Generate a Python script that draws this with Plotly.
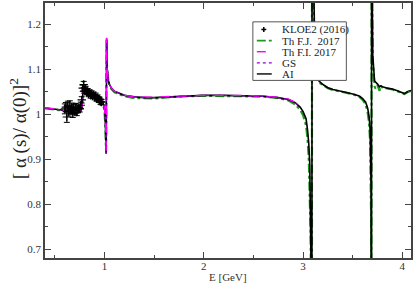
import plotly.graph_objects as go

# ---------------- data ----------------
# AI (black solid)
E_ai = [0.40, 0.45, 0.50, 0.55, 0.60, 0.65, 0.70, 0.73, 0.75, 0.765, 0.772, 0.777, 0.781, 0.784, 0.787,
        0.792, 0.80, 0.82, 0.85, 0.88, 0.91, 0.94, 0.96, 0.975, 0.99, 1.0, 1.006, 1.010, 1.013, 1.0155,
        1.0175, 1.019, 1.0205, 1.022, 1.024, 1.027, 1.032, 1.04, 1.05, 1.07, 1.10, 1.15, 1.20, 1.30, 1.40,
        1.50, 1.60, 1.80, 2.00, 2.20, 2.40, 2.60, 2.75, 2.85, 2.92, 2.97, 3.00, 3.03, 3.045, 3.057, 3.067,
        3.075, 3.081, 3.086, 3.0885, 3.0905, 3.093, 3.10, 3.11, 3.12, 3.13, 3.15, 3.20, 3.25, 3.30, 3.38,
        3.45, 3.52, 3.57, 3.60, 3.63, 3.65, 3.665, 3.675, 3.681, 3.685, 3.6885, 3.6905, 3.693, 3.697,
        3.702, 3.71, 3.72, 3.75, 3.77, 3.78, 3.80, 3.85, 3.90, 3.95, 4.00, 4.02, 4.05, 4.09]
v_ai = [1.014, 1.013, 1.012, 1.010, 1.008, 1.005, 1.003, 1.003, 1.005, 1.010, 1.017, 1.028, 1.045, 1.058, 1.063,
        1.061, 1.057, 1.052, 1.047, 1.043, 1.040, 1.036, 1.033, 1.029, 1.022, 1.012, 0.998, 0.975, 0.945, 0.913,
        0.960, 1.080, 1.168, 1.150, 1.120, 1.100, 1.085, 1.074, 1.066, 1.058, 1.051, 1.046, 1.042, 1.039, 1.037,
        1.037, 1.038, 1.040, 1.042, 1.042, 1.041, 1.040, 1.037, 1.033, 1.026, 1.016, 1.006, 0.990, 0.965, 0.935, 0.890,
        0.820, 0.730, 0.560, 0.200, 1.800, 1.550, 1.380, 1.200, 1.120, 1.092, 1.076, 1.066, 1.059, 1.055, 1.052,
        1.048, 1.044, 1.040, 1.035, 1.027, 1.014, 0.995, 0.965, 0.915, 0.840, 0.300, 1.800, 1.450, 1.250,
        1.130, 1.088, 1.074, 1.067, 1.061, 1.063, 1.061, 1.058, 1.056, 1.052, 1.048, 1.046, 1.050, 1.053]

# Th F.J. 2017 (green dash-dot)
E_fj = [0.40, 0.45, 0.50, 0.55, 0.60, 0.65, 0.70, 0.73, 0.75, 0.765, 0.772, 0.777, 0.781, 0.784, 0.787,
        0.792, 0.80, 0.82, 0.85, 0.88, 0.91, 0.94, 0.96, 0.975, 0.99, 1.0, 1.006, 1.010, 1.013, 1.0155,
        1.0175, 1.019, 1.0205, 1.022, 1.024, 1.027, 1.032, 1.04, 1.05, 1.07, 1.10, 1.15, 1.20, 1.30, 1.40,
        1.50, 1.60, 1.80, 2.00, 2.20, 2.40, 2.60, 2.75, 2.85, 2.92, 2.97, 3.00, 3.03, 3.045, 3.057, 3.067,
        3.075, 3.081, 3.086, 3.0885, 3.0905, 3.093, 3.10, 3.11, 3.12, 3.13, 3.15, 3.20, 3.25, 3.30, 3.38,
        3.45, 3.52, 3.57, 3.60, 3.63, 3.65, 3.665, 3.675, 3.681, 3.685, 3.6885, 3.6905, 3.693, 3.697,
        3.702, 3.71, 3.72, 3.73, 3.75, 3.77, 3.78, 3.80, 3.85, 3.90, 3.95, 4.00, 4.02, 4.05, 4.09]
v_fj = [1.013, 1.012, 1.011, 1.009, 1.006, 1.003, 1.001, 1.002, 1.006, 1.012, 1.022, 1.040, 1.062, 1.074, 1.072,
        1.064, 1.057, 1.051, 1.046, 1.042, 1.039, 1.035, 1.031, 1.026, 1.018, 1.006, 0.990, 0.965, 0.935, 0.918,
        0.990, 1.110, 1.165, 1.140, 1.112, 1.094, 1.080, 1.071, 1.064, 1.056, 1.049, 1.044, 1.040, 1.036, 1.035,
        1.035, 1.037, 1.040, 1.041, 1.041, 1.040, 1.039, 1.036, 1.031, 1.022, 1.010, 0.998, 0.975, 0.945, 0.905, 0.840,
        0.740, 0.600, 0.400, 0.200, 1.800, 1.520, 1.340, 1.170, 1.105, 1.085, 1.072, 1.064, 1.058, 1.054, 1.051,
        1.047, 1.043, 1.038, 1.032, 1.022, 1.005, 0.980, 0.940, 0.880, 0.780, 0.300, 1.800, 1.420, 1.230,
        1.120, 1.080, 1.062, 1.057, 1.064, 1.052, 1.064, 1.059, 1.057, 1.055, 1.051, 1.047, 1.045, 1.049, 1.052]

# Th F.I. 2017 (magenta dashed)
E_fi = [0.40, 0.45, 0.50, 0.55, 0.60, 0.65, 0.70, 0.73, 0.75, 0.765, 0.772, 0.777, 0.781, 0.784, 0.787,
        0.792, 0.80, 0.82, 0.85, 0.88, 0.91, 0.94, 0.96, 0.975, 0.99, 1.0, 1.006, 1.010, 1.013, 1.0155,
        1.0175, 1.019, 1.0205, 1.022, 1.024, 1.027, 1.032, 1.04, 1.05, 1.07, 1.10, 1.15, 1.20, 1.30, 1.40,
        1.50, 1.60, 1.80, 2.00, 2.20, 2.40, 2.60, 2.75, 2.85, 2.92, 2.96]
v_fi = [1.015, 1.014, 1.012, 1.010, 1.008, 1.005, 1.003, 1.003, 1.005, 1.010, 1.017, 1.028, 1.044, 1.057, 1.062,
        1.060, 1.056, 1.051, 1.047, 1.043, 1.040, 1.036, 1.033, 1.029, 1.022, 1.012, 0.998, 0.975, 0.945, 0.910,
        0.958, 1.080, 1.170, 1.150, 1.120, 1.100, 1.085, 1.074, 1.066, 1.058, 1.051, 1.046, 1.042, 1.039, 1.038,
        1.038, 1.039, 1.041, 1.042, 1.042, 1.042, 1.040, 1.038, 1.034, 1.027, 1.019]

# GS (violet dotted)
E_gs = [0.40, 0.45, 0.50, 0.55, 0.60, 0.65, 0.70, 0.73, 0.75, 0.765, 0.772, 0.777, 0.781, 0.784, 0.787,
        0.792, 0.80, 0.82, 0.85, 0.88, 0.91, 0.94, 0.96, 0.975, 0.99, 1.0, 1.006, 1.010, 1.013, 1.0155,
        1.0175, 1.019, 1.0205, 1.022, 1.024, 1.027, 1.032, 1.04, 1.05, 1.07, 1.10, 1.15, 1.20, 1.30, 1.40,
        1.50, 1.60, 1.80, 2.00, 2.20, 2.40, 2.60, 2.75, 2.85, 2.92, 2.96]
v_gs = [1.014, 1.013, 1.012, 1.010, 1.007, 1.004, 1.002, 1.003, 1.005, 1.011, 1.018, 1.030, 1.046, 1.058, 1.062,
        1.060, 1.056, 1.051, 1.047, 1.043, 1.040, 1.036, 1.033, 1.029, 1.022, 1.012, 0.998, 0.975, 0.945, 0.912,
        0.960, 1.080, 1.168, 1.148, 1.118, 1.099, 1.084, 1.074, 1.066, 1.058, 1.051, 1.046, 1.042, 1.039, 1.037,
        1.037, 1.038, 1.040, 1.042, 1.042, 1.041, 1.040, 1.037, 1.033, 1.026, 1.018]

# KLOE2 (2016) data points
E_kloe = [0.600, 0.610, 0.620, 0.630, 0.640, 0.650, 0.660, 0.670, 0.680, 0.690, 0.700, 0.710, 0.720, 0.730,
          0.740, 0.750, 0.760, 0.770, 0.780, 0.790, 0.800, 0.810, 0.820, 0.830, 0.840, 0.850, 0.860, 0.870,
          0.880, 0.890, 0.900, 0.910, 0.920, 0.930, 0.940, 0.950, 0.960, 0.970]
v_kloe = [1.012, 1.016, 0.994, 1.018, 1.006, 1.020, 1.009, 1.015, 1.002, 1.013, 1.008, 1.016, 1.005, 1.011,
          1.014, 1.012, 1.020, 1.032, 1.058, 1.066, 1.052, 1.056, 1.049, 1.051, 1.045, 1.048, 1.042, 1.046,
          1.041, 1.043, 1.038, 1.041, 1.035, 1.037, 1.033, 1.032, 1.028, 1.027]
e_kloe = [0.011, 0.010, 0.012, 0.011, 0.010, 0.010, 0.009, 0.010, 0.009, 0.009, 0.008, 0.008, 0.008, 0.008,
          0.007, 0.007, 0.007, 0.007, 0.007, 0.007, 0.006, 0.006, 0.006, 0.006, 0.006, 0.006, 0.006, 0.006,
          0.006, 0.006, 0.006, 0.006, 0.006, 0.006, 0.006, 0.006, 0.006, 0.006]

x_ticks = [1, 2, 3, 4]
x_ticklabels = ["1", "2", "3", "4"]
y_ticks = [0.7, 0.8, 0.9, 1.0, 1.1, 1.2]
y_ticklabels = ["0.7", "0.8", "0.9", "1", "1.1", "1.2"]

legend_labels = ["KLOE2 (2016)", "Th F.J.  2017", "Th F.I. 2017", "GS", "AI"]

GREEN = "#1f9a1f"
MAGENTA = "#ff00ff"
VIOLET = "#9400d3"
FONT = "Liberation Serif"

# ---------------- figure ----------------
fig = go.Figure()
fig.add_trace(go.Scatter(x=E_fj, y=v_fj, mode="lines",
                         line=dict(color=GREEN, width=2.2, dash="dashdot"), name=legend_labels[1]))
fig.add_trace(go.Scatter(x=E_ai, y=v_ai, mode="lines",
                         line=dict(color="black", width=1.6), name=legend_labels[4]))
fig.add_trace(go.Scatter(x=E_gs, y=v_gs, mode="lines",
                         line=dict(color=VIOLET, width=1.3, dash="dot"), name=legend_labels[3]))
fig.add_trace(go.Scatter(x=E_fi, y=v_fi, mode="lines",
                         line=dict(color=MAGENTA, width=1.3, dash="dash"), name=legend_labels[2]))
fig.add_trace(go.Scatter(x=E_kloe, y=v_kloe, mode="markers",
                         marker=dict(symbol="cross-thin", size=6, line=dict(color="black", width=1.2)),
                         error_y=dict(type="data", array=e_kloe, color="black", thickness=1, width=3),
                         name=legend_labels[0]))

axis_common = dict(showline=True, linecolor="#444", linewidth=1.5, mirror="allticks",
                   ticks="inside", ticklen=6, tickwidth=1, tickcolor="#444",
                   showgrid=False, zeroline=False,
                   tickfont=dict(family=FONT, size=11, color="#333"))

fig.update_xaxes(range=[0.4, 4.087], tickmode="array", tickvals=x_ticks, ticktext=x_ticklabels,
                 ticklabelstandoff=-3,
                 minor=dict(tickmode="array", tickvals=[0.5, 1.5, 2.5, 3.5], ticks="inside",
                            ticklen=3, tickcolor="#444"),
                 **axis_common)
fig.update_yaxes(range=[0.681, 1.247], tickmode="array", tickvals=y_ticks, ticktext=y_ticklabels,
                 minor=dict(tickmode="array", tickvals=[0.75, 0.85, 0.95, 1.05, 1.15], ticks="inside",
                            ticklen=3, tickcolor="#444"),
                 **axis_common)

L, R, T, B = 45, 413, 1, 258


def px(x):
    return (x - L) / (R - L)


def py(y):
    return (B - y) / (B - T)


annotations = [
    dict(text="E [GeV]", x=px(229), y=py(277), xref="paper", yref="paper", showarrow=False,
         font=dict(family=FONT, size=11, color="#333"), xanchor="center", yanchor="middle"),
    dict(text="[ α (s)/ α(0)]<sup>2</sup>", x=px(18), y=py(128), xref="paper", yref="paper",
         showarrow=False, textangle=-90, font=dict(family=FONT, size=19, color="#222"),
         xanchor="center", yanchor="middle"),
]

# manual legend (box, samples, labels)
shapes = [dict(type="rect", xref="paper", yref="paper", x0=px(254), x1=px(348), y0=py(20), y1=py(79),
               line=dict(color="#555", width=1), fillcolor="white", layer="above")]
rows = [27.7, 38.9, 50.1, 61.3, 72.5]
styles = [None, (GREEN, "dashdot", 1.6), (MAGENTA, "dash", 1.4), (VIOLET, "dot", 1.4), ("black", "solid", 1.4)]
for i, yy in enumerate(rows):
    if styles[i] is None:
        shapes.append(dict(type="line", xref="paper", yref="paper", x0=px(262.5), x1=px(267.5),
                           y0=py(yy), y1=py(yy), line=dict(color="black", width=1.5), layer="above"))
        shapes.append(dict(type="line", xref="paper", yref="paper", x0=px(265), x1=px(265),
                           y0=py(yy - 2.5), y1=py(yy + 2.5), line=dict(color="black", width=1.5), layer="above"))
    else:
        c, d, w = styles[i]
        shapes.append(dict(type="line", xref="paper", yref="paper", x0=px(258), x1=px(273),
                           y0=py(yy), y1=py(yy), line=dict(color=c, width=w, dash=d), layer="above"))
    annotations.append(dict(text=legend_labels[i], x=px(281), y=py(yy), xref="paper", yref="paper",
                            showarrow=False, xanchor="left", yanchor="middle",
                            font=dict(family=FONT, size=11, color="#222")))

fig.update_layout(width=414, height=283, margin=dict(l=L, r=414 - R, t=T, b=283 - B),
                  plot_bgcolor="white", paper_bgcolor="white", showlegend=False,
                  shapes=shapes, annotations=annotations)

fig.write_html("out.html", config={"displayModeBar": False},
               post_script="document.body.style.margin='0px';document.body.style.padding='0px';")
